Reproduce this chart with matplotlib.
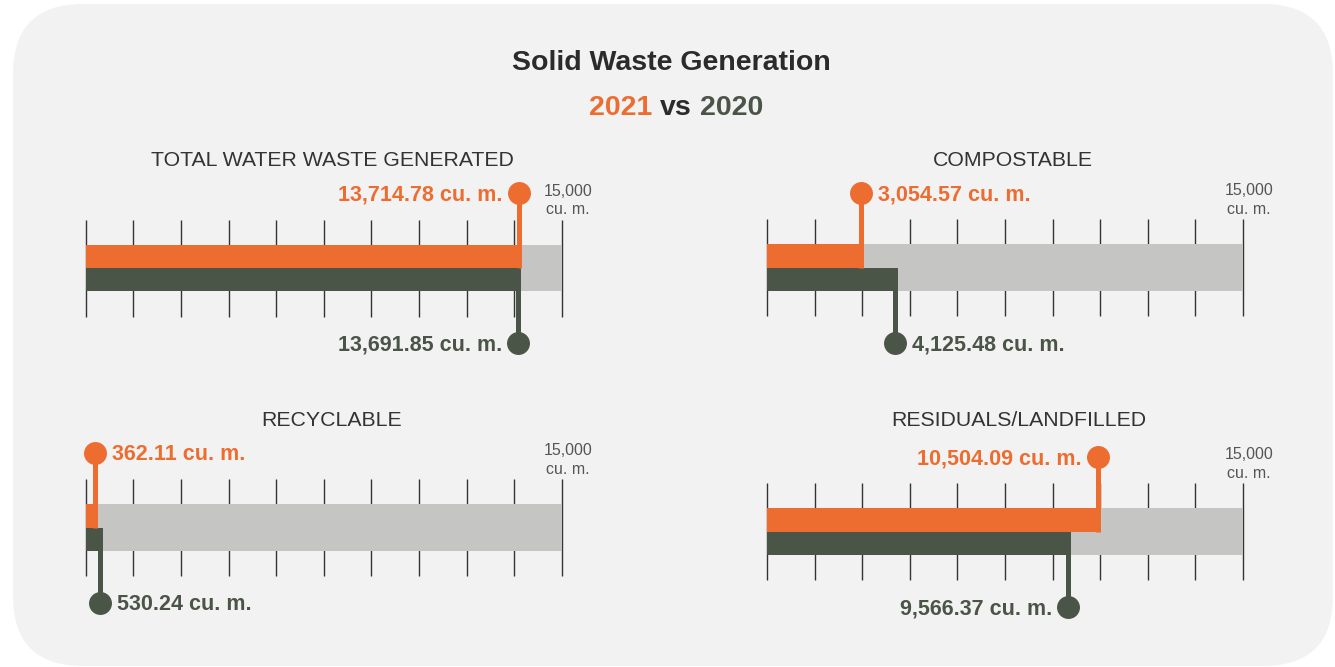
import numpy as np
import matplotlib.pyplot as plt
import matplotlib.transforms as mtransforms
from matplotlib.patches import FancyBboxPatch

plt.rcParams['font.family'] = ['Liberation Sans', 'DejaVu Sans']

# data
panels = ["TOTAL WATER WASTE GENERATED", "COMPOSTABLE", "RECYCLABLE", "RESIDUALS/LANDFILLED"]
values_2021 = [13714.78, 3054.57, 362.11, 10504.09]
values_2020 = [13691.85, 4125.48, 530.24, 9566.37]
max_value = 15000
tick_step = 1500
label_side = ["left", "right", "right", "left"]

orange = "#ED6D31"
dark = "#4B5547"
gray = "#C5C5C3"
bg_color = "#F2F2F2"
text_color = "#2b2b2b"

W, H = 1335, 667
fig = plt.figure(figsize=(W / 100, H / 100), dpi=100)
fig.patch.set_facecolor("white")

# background card, pixel coordinates
bg = fig.add_axes([0, 0, 1, 1])
bg.set_xlim(0, W)
bg.set_ylim(H, 0)
bg.axis("off")
bg.add_patch(FancyBboxPatch((13, 4), 1320, 662, boxstyle="round,pad=0,rounding_size=70",
                            fc=bg_color, ec="none"))

bg.text(671, 60, "Solid Waste Generation", ha="center", va="center_baseline",
        fontsize=20.5, fontweight="bold", color=text_color)
bg.text(652, 105, "2021", ha="right", va="center_baseline", fontsize=20.5, fontweight="bold", color=orange)
bg.text(676, 105, "vs", ha="center", va="center_baseline", fontsize=20.5, fontweight="bold", color=text_color)
bg.text(700, 105, "2020", ha="left", va="center_baseline", fontsize=20.5, fontweight="bold", color=dark)

# panel layout: axis start/end px, bar center y px, title x/y px
layout = [(85.7, 562, 268, 332, 158),
          (767, 1243, 267.5, 1013, 158),
          (85.7, 562, 527.5, 332, 418),
          (767, 1243, 531.5, 1019, 418)]

ticks = np.arange(0, max_value + 1, tick_step)

for i, name in enumerate(panels):
    x0, x1, yc, tx, ty = layout[i]
    bg.text(tx, ty, name, ha="center", va="center_baseline", fontsize=15.3, color="#333333")

    ax = fig.add_axes([x0 / W, (H - yc - 100) / H, (x1 - x0) / W, 200 / H])
    ax.set_xlim(0, max_value)
    ax.set_ylim(-100, 100)
    ax.axis("off")
    # stems sit with their right edge on the bar end
    shifted = mtransforms.offset_copy(ax.transData, fig=fig, x=-2.5, y=0, units="dots")

    v21 = values_2021[i]
    v20 = values_2020[i]

    ax.vlines(ticks, -48.5, 48.5, color="#333333", lw=1.0, zorder=1, clip_on=False)
    ax.barh(0, max_value, height=46.6, color=gray, zorder=2)
    ax.barh(11.65, v21, height=23.3, color=orange, zorder=3)
    ax.barh(-11.65, v20, height=23.3, color=dark, zorder=3)

    ax.vlines(v21, 0, 75, color=orange, lw=3.6, zorder=4, clip_on=False, transform=shifted)
    ax.vlines(v20, -75, 0, color=dark, lw=3.6, zorder=4, clip_on=False, transform=shifted)
    ax.plot(v21, 75, "o", ms=15.5, color=orange, zorder=5, clip_on=False, transform=shifted)
    ax.plot(v20, -75, "o", ms=15.5, color=dark, zorder=5, clip_on=False, transform=shifted)

    if label_side[i] == "left":
        off, ha = -13.3, "right"
    else:
        off, ha = 10.3, "left"
    ax.annotate(f"{v21:,.2f} cu. m.", (v21, 75), xytext=(off, 0), textcoords="offset points",
                ha=ha, va="center_baseline", fontsize=15.5, fontweight="bold", color=orange,
                annotation_clip=False)
    ax.annotate(f"{v20:,.2f} cu. m.", (v20, -75), xytext=(off, 0), textcoords="offset points",
                ha=ha, va="center_baseline", fontsize=15.5, fontweight="bold", color=dark,
                annotation_clip=False)

    ax.annotate(f"{max_value:,}\ncu. m.", (max_value, 67.5), xytext=(4.3, 0), textcoords="offset points",
                ha="center", va="center", fontsize=11.5, color="#555555", linespacing=1.3,
                annotation_clip=False)

fig.savefig("out.png", dpi=100, facecolor="white")
